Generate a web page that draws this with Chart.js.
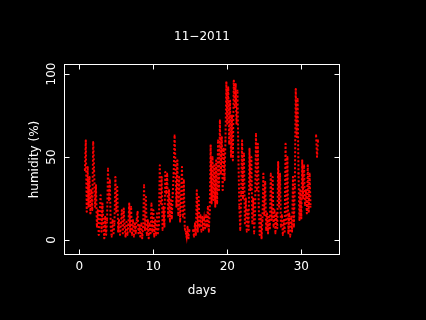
<!DOCTYPE html>
<html>
<head>
<meta charset="utf-8">
<script src="https://cdn.jsdelivr.net/npm/chart.js@4"></script>
<style>
    html, body { margin: 0; padding: 0; background: #000; }
    #wrap { width: 426px; height: 320px; }
</style>
</head>
<body>
<div id="wrap"><canvas id="humidityPlot" width="426" height="320"></canvas></div>
<script>
// readings every 3 hours, starting at day 0.75
const startDay = 0.75;
const stepDays = 0.125;

const humidityWeek1 = [
    42, 60, 17, 44, 20, 38, 16, 30, 18, 59,
    42, 20, 33, 8, 18, 3, 15, 27, 5, 22,
    10, 1, 14, 3, 12, 43, 24, 36, 8, 2,
    12, 4, 10, 38, 17, 32, 5, 12, 3, 10,
    18, 4, 19, 8, 2, 11, 3, 9, 22, 5,
    20, 3, 12, 2, 10, 4, 12, 17, 4, 9,
];
const humidityWeek2 = [
    2, 10, 1, 8, 33, 6, 26, 3, 12, 1,
    10, 4, 22, 5, 18, 2, 12, 3, 16, 4,
    9, 45, 22, 38, 6, 20, 8, 41, 28, 40,
    14, 30, 11, 24, 13, 28, 40, 63, 45, 20,
    48, 15, 38, 11, 25, 44, 14, 36, 7, 5,
    2, 8, 1, 6, null, null, null, 6, 2, 10,
];
const humidityWeek3 = [
    3, 30, 5, 26, 8, 15, 5, 14, 6, 12,
    7, 15, 8, 20, 5, 18, 57, 22, 50, 24,
    45, 20, 48, 22, 60, 30, 72, 40, 62, 30,
    55, 36, 60, 95, 70, 92, 58, 84, 50, 75,
    48, 96, 80, 94, 70, 90, 50, 20, 6, 28,
    60, 25, 52, 10, 25, 5, 18, 6, 55, 30,
];
const humidityWeek4 = [
    50, 10, 25, 4, 15, 64, 30, 58, 20, 3,
    15, 1, 12, 40, 15, 35, 6, 16, 4, 14,
    7, 40, 12, 38, 8, 18, 4, 16, 7, 47,
    20, 40, 8, 15, 3, 12, 5, 58, 10, 50,
    4, 16, 2, 14, 5, 38, 8, 32, 91, 62,
    85, 40, 12, 30, 13, 48, 25, 45, 21, 30,
    16, 45, 17, 40, 20, null, null, null, null, null,
    63, 50, 60,
];

const xTicks = [0, 10, 20, 30];
const yTicks = [0, 50, 100];

const humidity = humidityWeek1.concat(humidityWeek2, humidityWeek3, humidityWeek4);
const points = humidity.map((h, i) => ({ x: startDay + i * stepDays, y: h }));

const FONT = "12px 'DejaVu Sans', sans-serif";

const blackBackground = {
    id: "blackBackground",
    beforeDraw(chart) {
        const c = chart.ctx;
        c.save();
        c.fillStyle = "#000";
        c.fillRect(0, 0, chart.width, chart.height);
        c.restore();
    },
};

// gnuplot-like frame: box, inward mirrored ticks, rotated y labels
const plotFrame = {
    id: "plotFrame",
    afterDraw(chart) {
        const c = chart.ctx;
        const a = chart.chartArea;
        const xs = chart.scales.x;
        const ys = chart.scales.y;
        const L = Math.round(a.left) + 0.5;
        const R = Math.round(a.right) - 0.5;
        const T = Math.round(a.top) + 0.5;
        const B = Math.round(a.bottom) - 0.5;
        c.save();
        c.strokeStyle = "#fff";
        c.lineWidth = 1;
        c.strokeRect(L, T, R - L, B - T);
        c.beginPath();
        xTicks.forEach((v) => {
            const px = Math.round(xs.getPixelForValue(v)) + 0.5;
            c.moveTo(px, B); c.lineTo(px, B - 5);
            c.moveTo(px, T); c.lineTo(px, T + 5);
        });
        yTicks.forEach((v) => {
            const py = Math.round(ys.getPixelForValue(v)) + 0.5;
            c.moveTo(L, py); c.lineTo(L + 5, py);
            c.moveTo(R, py); c.lineTo(R - 5, py);
        });
        c.stroke();

        c.fillStyle = "#fff";
        c.font = FONT;
        c.textAlign = "center";
        c.textBaseline = "middle";
        xTicks.forEach((v) => {
            c.fillText(String(v), xs.getPixelForValue(v), 267);
        });
        yTicks.forEach((v) => {
            c.save();
            c.translate(52, ys.getPixelForValue(v));
            c.rotate(-Math.PI / 2);
            c.fillText(String(v), 0, 0);
            c.restore();
        });

        const midX = (a.left + a.right) / 2;
        c.fillText("11\u22122011", midX, 37);
        c.fillText("days", midX, 291);
        c.save();
        c.translate(35, (a.top + a.bottom) / 2);
        c.rotate(-Math.PI / 2);
        c.fillText("humidity (%)", 0, 0);
        c.restore();
        c.restore();
    },
};

new Chart(document.getElementById("humidityPlot"), {
    type: "line",
    data: {
        datasets: [
            {
                data: points,
                borderColor: "#ff0000",
                borderWidth: 2,
                borderDash: [2, 2],
                pointRadius: 1.2,
                pointStyle: "rect",
                pointBackgroundColor: "#ff0000",
                pointBorderWidth: 0,
                spanGaps: false,
                tension: 0,
            },
        ],
    },
    options: {
        responsive: false,
        devicePixelRatio: 1,
        animation: false,
        layout: { padding: { left: 64, right: 86, top: 64, bottom: 65 } },
        plugins: {
            legend: { display: false },
            tooltip: { enabled: false },
            title: { display: false },
        },
        scales: {
            x: { type: "linear", min: -2.07, max: 35.23, display: false },
            y: { type: "linear", min: -9.04, max: 106.02, display: false },
        },
    },
    plugins: [blackBackground, plotFrame],
});
</script>
</body>
</html>
